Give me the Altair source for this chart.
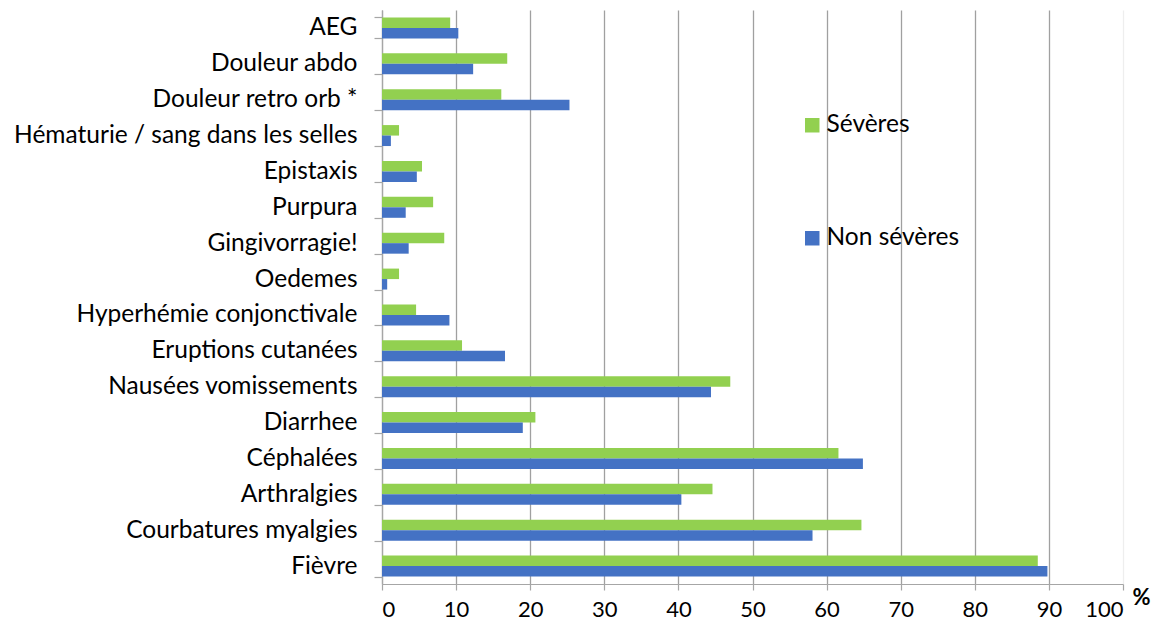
import altair as alt
import pandas as pd

categories = [
    "AEG", "Douleur abdo", "Douleur retro orb *", "Hématurie / sang dans les selles",
    "Epistaxis", "Purpura", "Gingivorragie!", "Oedemes", "Hyperhémie conjonctivale",
    "Eruptions cutanées", "Nausées vomissements", "Diarrhee", "Céphalées",
    "Arthralgies", "Courbatures myalgies", "Fièvre",
]
severes = [9.2, 16.9, 16.1, 2.3, 5.4, 6.9, 8.4, 2.3, 4.6, 10.8, 47.0, 20.7, 61.6, 44.6, 64.7, 88.5]
non_severes = [10.3, 12.3, 25.3, 1.2, 4.7, 3.2, 3.6, 0.7, 9.1, 16.6, 44.4, 19.0, 64.9, 40.4, 58.1, 89.8]
series = ["Sévères", "Non sévères"]
colors = ["#92D050", "#4472C4"]
x_ticks = [0, 10, 20, 30, 40, 50, 60, 70, 80, 90, 100]

rows = []
for c, s, n in zip(categories, severes, non_severes):
    rows.append({"cat": c, "serie": series[0], "val": s})
    rows.append({"cat": c, "serie": series[1], "val": n})
df = pd.DataFrame(rows)

FONT = "Lato"
FS = 24.5

chart = alt.Chart(df).mark_bar(size=10.5).encode(
    y=alt.Y("cat:N", sort=categories,
            scale=alt.Scale(paddingInner=0.4167, paddingOuter=0.2083),
            axis=alt.Axis(title=None, labelFontSize=FS, labelFont=FONT, labelColor="#000000",
                          labelPadding=17, tickSize=8, tickColor="#a6a6a6", domainColor="#a6a6a6",
                          tickBand="extent", labelLimit=400)),
    yOffset=alt.YOffset("serie:N", sort=series, scale=alt.Scale(paddingInner=0, paddingOuter=0)),
    x=alt.X("val:Q", scale=alt.Scale(domain=[0, 100], nice=False),
            axis=alt.Axis(values=x_ticks, title="%", titleFontSize=22, titleFont=FONT,
                          titleFontWeight="bold", titleColor="#000000",
                          titleX=759, titleY=13, titleAlign="center", titleBaseline="middle",
                          titleAngle=0,
                          labelFontSize=22, labelFont=FONT, labelColor="#000000",
                          labelPadding=9, tickSize=6, tickColor="#a6a6a6",
                          domainColor="#a6a6a6", grid=True,
                          gridColor=alt.condition("datum.value == 100", alt.value("#eeeeee"), alt.value("#a0a0a0")),
                          gridWidth=1.3)),
    color=alt.Color("serie:N", sort=series,
                    scale=alt.Scale(domain=series, range=colors),
                    legend=alt.Legend(title=None, orient="none", legendX=418, legendY=103,
                                      symbolType="square", symbolSize=210, symbolStrokeWidth=0,
                                      labelFontSize=FS, labelFont=FONT, labelColor="#000000",
                                      rowPadding=88, labelOffset=2)),
).properties(
    width=741, height=574,
    autosize=alt.AutoSizeParams(type="none"),
    padding={"left": 374, "top": 2, "right": 28, "bottom": 42},
).configure_view(stroke=None).configure_axis(domainWidth=1.2, tickWidth=1.2)

chart.save("out.html", embed_options={"renderer": "svg", "actions": False})
